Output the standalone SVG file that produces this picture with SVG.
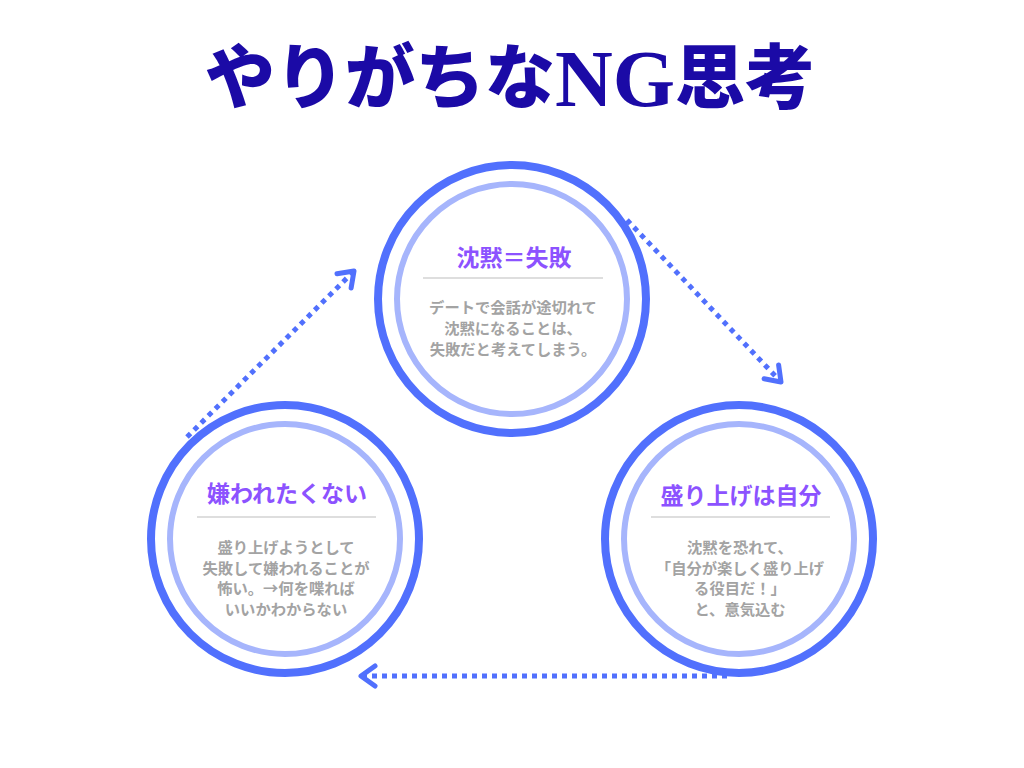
<svg xmlns="http://www.w3.org/2000/svg" width="1024" height="768" viewBox="0 0 1024 768">
  <style>
    .outer { fill: #ffffff; stroke: #5170fd; stroke-width: 8; }
    .inner { fill: none; stroke: #a6b5fc; stroke-width: 6; }
    .head { font-family: "Noto Sans CJK JP", "Noto Sans", sans-serif; font-weight: 700; font-size: 23px; fill: #8c52ff; text-anchor: middle; dominant-baseline: central; }
    .body { font-family: "Noto Sans CJK JP", "Noto Sans", sans-serif; font-weight: 700; font-size: 15.3px; fill: #a3a3a3; text-anchor: middle; dominant-baseline: central; }
    .rule { stroke: #bdbdbd; stroke-width: 1.2; }
    .conn { fill: none; stroke: #5170fd; stroke-width: 5; stroke-dasharray: 5 5; }
    .title { font-family: "Liberation Serif", "Noto Sans CJK JP", serif; font-weight: 900; font-size: 70px; fill: #1b0aa6; text-anchor: middle; dominant-baseline: central; }
  </style>
  <defs>
    <marker id="chev" markerUnits="userSpaceOnUse" viewBox="-22 -16 30 32" refX="0" refY="0" markerWidth="30" markerHeight="32" orient="auto" overflow="visible">
      <path d="M -14 -10 L 0 0 L -14 10" fill="none" stroke="#5170fd" stroke-width="5" stroke-linecap="round" stroke-linejoin="round" stroke-dasharray="none"/>
    </marker>
  </defs>
  <rect width="1024" height="768" fill="#ffffff"/>

  <text class="title" x="510" y="79">やりがちな<tspan font-size="80">NG</tspan>思考</text>

  <g id="node-top">
    <circle class="outer" cx="512" cy="299" r="134"/>
    <circle class="inner" cx="512" cy="299" r="115"/>
    <text class="head" x="514" y="256">沈黙＝失敗</text>
    <line class="rule" x1="423" y1="278" x2="603" y2="278"/>
    <text class="body" x="513" y="306">デートで会話が途切れて</text>
    <text class="body" x="513" y="327">沈黙になることは、</text>
    <text class="body" x="513" y="348">失敗だと考えてしまう。</text>
  </g>

  <g id="node-left">
    <circle class="outer" cx="285" cy="539" r="134"/>
    <circle class="inner" cx="285" cy="539" r="115"/>
    <text class="head" x="287" y="492">嫌われたくない</text>
    <line class="rule" x1="197" y1="517" x2="376" y2="517"/>
    <text class="body" x="286" y="546">盛り上げようとして</text>
    <text class="body" x="286" y="566.5">失敗して嫌われることが</text>
    <text class="body" x="286" y="587">怖い。→何を喋れば</text>
    <text class="body" x="286" y="607.5">いいかわからない</text>
  </g>

  <g id="node-right">
    <circle class="outer" cx="739" cy="539" r="134"/>
    <circle class="inner" cx="739" cy="539" r="115"/>
    <text class="head" x="741" y="494">盛り上げは自分</text>
    <line class="rule" x1="651" y1="517" x2="830" y2="517"/>
    <text class="body" x="740" y="546">沈黙を恐れて、</text>
    <text class="body" x="740" y="566.5">「自分が楽しく盛り上げ</text>
    <text class="body" x="740" y="587">る役目だ！」</text>
    <text class="body" x="740" y="607.5">と、意気込む</text>
  </g>

  <g id="connectors">
    <line class="conn" x1="187" y1="437" x2="354" y2="271" marker-end="url(#chev)"/>
    <line class="conn" x1="627" y1="220" x2="781" y2="382" marker-end="url(#chev)"/>
    <line class="conn" x1="727" y1="676" x2="361" y2="676" marker-end="url(#chev)"/>
  </g>
</svg>
